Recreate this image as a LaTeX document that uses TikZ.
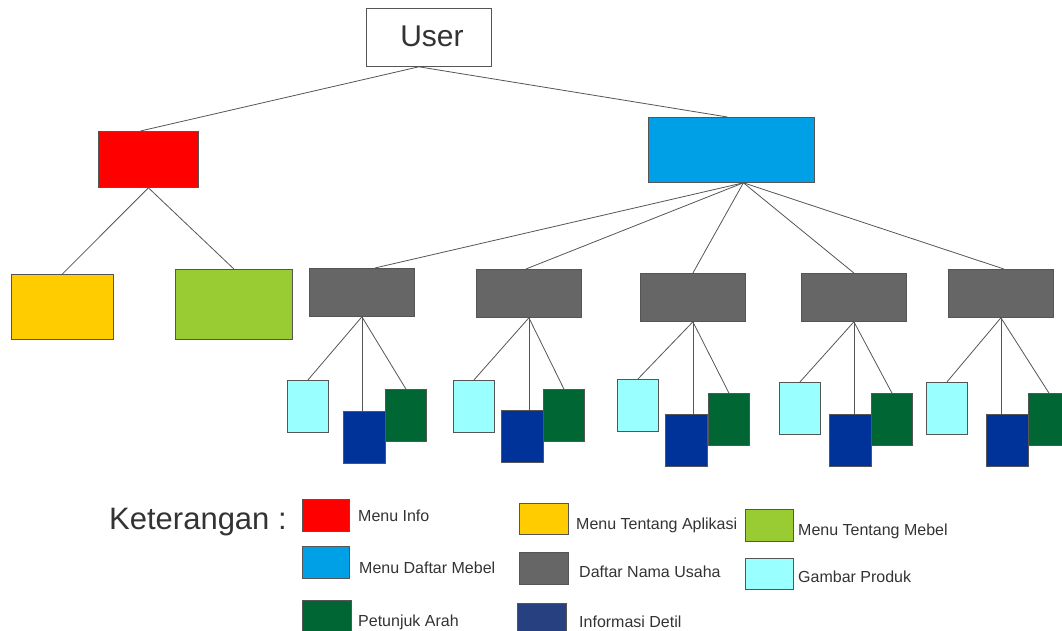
\documentclass[tikz,border=0pt]{standalone}
\usepackage{fontspec}
\setmainfont{Liberation Sans}
\definecolor{cRed}{HTML}{FF0000}
\definecolor{cBlue}{HTML}{00A0E6}
\definecolor{cYellow}{HTML}{FFCC00}
\definecolor{cLime}{HTML}{99CC33}
\definecolor{cGray}{HTML}{666666}
\definecolor{cCyan}{HTML}{99FFFF}
\definecolor{cNavy}{HTML}{003399}
\definecolor{cGreen}{HTML}{006633}
\definecolor{cNavyL}{HTML}{264080}
\definecolor{cEdge}{HTML}{555555}
\definecolor{cText}{HTML}{333333}
\tikzset{
  box/.style={draw=cEdge, line width=0.8pt, inner sep=0pt, anchor=north west, rectangle},
  link/.style={draw=cEdge, line width=0.8pt},
  lbl/.style={anchor=base west, inner sep=0pt, text=cText, font=\fontsize{16}{19}\selectfont},
}
\newcommand{\bx}[6]{\node[box, fill=#2, minimum width=#5pt, minimum height=#6pt] (#1) at (#3,#4) {};}
\begin{document}
\begin{tikzpicture}[x=1pt,y=-1pt]
\useasboundingbox (0,0) rectangle (1062,631);
% top
\node[box, fill=white, minimum width=125pt, minimum height=58pt] (user) at (366,8) {};
\node[anchor=base, text=cText, font=\fontsize{30}{34}\selectfont, inner sep=0pt] (usert) at (432,47) {User};
\bx{info}{cRed}{98}{131}{100}{56}
\bx{daftar}{cBlue}{648}{117}{166}{65}
\bx{apl}{cYellow}{11}{274}{102}{65}
\bx{meb}{cLime}{175}{269}{117}{70}
\draw[link] ([xshift=-10pt]user.south) -- ([xshift=-8pt]info.north);
\draw[link] ([xshift=-10pt]user.south) -- ([xshift=-4pt]daftar.north);
\draw[link] (info.south) -- (apl.north);
\draw[link] (info.south) -- (meb.north);
% groups
\foreach \n/\gx/\gy/\cx/\cy/\bxx/\byy/\ex/\ey in {
  1/309/268/287/380/343/411/385/389,
  2/476/269/453/380/501/410/543/389,
  3/640/273/617/379/665/414/708/393,
  4/801/273/779/382/829/414/871/393,
  5/948/269/926/382/986/414/1028/393}{
  \bx{g\n}{cGray}{\gx}{\gy}{105}{48}
  \bx{c\n}{cCyan}{\cx}{\cy}{41}{52}
  \bx{b\n}{cNavy}{\bxx}{\byy}{42}{52}
  \bx{e\n}{cGreen}{\ex}{\ey}{41}{52}
  \draw[link] (g\n.south) -- (c\n.north);
  \draw[link] (g\n.south) -- (g\n.south |- b\n.north);
  \draw[link] (g\n.south) -- (e\n.north);
}
\draw[link] ([xshift=12pt]daftar.south) -- ([xshift=13pt]g1.north);
\draw[link] ([xshift=12pt]daftar.south) -- ([xshift=-3pt]g2.north);
\draw[link] ([xshift=12pt]daftar.south) -- (g3.north);
\draw[link] ([xshift=12pt]daftar.south) -- (g4.north);
\draw[link] ([xshift=12pt]daftar.south) -- ([xshift=3pt]g5.north);
% legend
\node[anchor=base west, inner sep=0pt, text=cText, font=\fontsize{31}{36}\selectfont] (ket) at (109,529) {Keterangan :};
\bx{l1}{cRed}{302}{499}{47}{32}
\node[lbl] (t1) at (358,521) {Menu Info};
\bx{l2}{cBlue}{302}{546}{47}{32}
\node[lbl] (t2) at (359,573) {Menu Daftar Mebel};
\bx{l3}{cGreen}{302}{600}{49}{40}
\node[lbl] (t3) at (358,626) {Petunjuk Arah};
\bx{l4}{cYellow}{519}{503}{49}{31}
\node[lbl] (t4) at (576,529) {Menu Tentang Aplikasi};
\bx{l5}{cGray}{519}{552}{49}{32}
\node[lbl] (t5) at (579,577) {Daftar Nama Usaha};
\bx{l6}{cNavyL}{517}{603}{49}{40}
\node[lbl] (t6) at (579,627) {Informasi Detil};
\bx{l7}{cLime}{745}{509}{48}{32}
\node[lbl] (t7) at (798,535) {Menu Tentang Mebel};
\bx{l8}{cCyan}{745}{558}{48}{31}
\node[lbl] (t8) at (798,582) {Gambar Produk};
\end{tikzpicture}
\end{document}
